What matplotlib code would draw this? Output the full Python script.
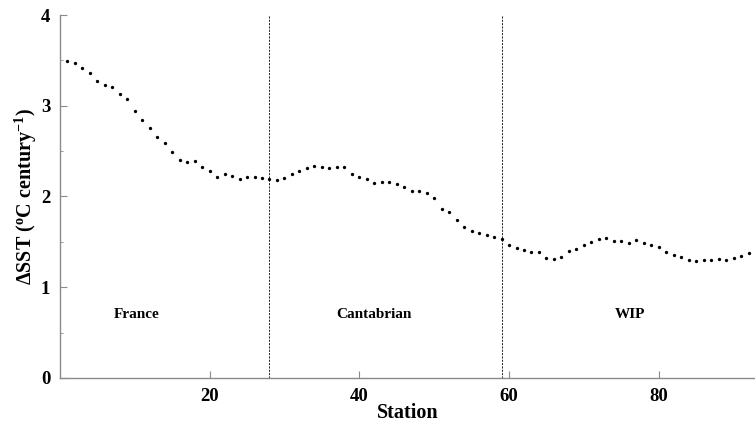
import numpy as np
import matplotlib.pyplot as plt
from matplotlib.ticker import MultipleLocator

# warming trend per station along the coast
station = np.arange(1, 93)
dsst = [3.49, 3.47, 3.42, 3.36, 3.27, 3.23, 3.21, 3.13, 3.07, 2.94,
        2.84, 2.76, 2.66, 2.59, 2.49, 2.40, 2.38, 2.39, 2.33, 2.28,
        2.22, 2.25, 2.23, 2.19, 2.22, 2.22, 2.20, 2.19, 2.18, 2.20,
        2.25, 2.28, 2.31, 2.34, 2.32, 2.31, 2.32, 2.33, 2.25, 2.22,
        2.19, 2.15, 2.16, 2.16, 2.14, 2.11, 2.06, 2.06, 2.04, 1.98,
        1.86, 1.83, 1.74, 1.66, 1.62, 1.60, 1.58, 1.55, 1.53, 1.47,
        1.43, 1.41, 1.39, 1.39, 1.32, 1.31, 1.33, 1.40, 1.42, 1.47,
        1.50, 1.53, 1.54, 1.51, 1.51, 1.49, 1.52, 1.49, 1.47, 1.44,
        1.39, 1.36, 1.33, 1.30, 1.29, 1.30, 1.30, 1.31, 1.30, 1.32,
        1.34, 1.38]

# region boundaries and names
bounds = [28, 59]
regions = ['France', 'Cantabrian', 'WIP']
region_x = [10.2, 42.0, 76.2]

plt.rcParams['font.family'] = ['Liberation Serif', 'DejaVu Serif']
plt.rcParams['font.weight'] = 'bold'
plt.rcParams['mathtext.fontset'] = 'custom'
plt.rcParams['mathtext.rm'] = 'Liberation Serif:bold'
plt.rcParams['mathtext.it'] = 'Liberation Serif:bold:italic'
plt.rcParams['mathtext.bf'] = 'Liberation Serif:bold'

fig = plt.figure(figsize=(7.55, 4.25), dpi=100)
ax = fig.add_axes([0.0793, 0.1106, 0.9221, 0.8541])

ax.plot(station, dsst, 'o', color='black', markersize=2.4, markeredgewidth=0)

for b in bounds:
    ax.axvline(b, color='black', linestyle=(0, (2.5, 1.5)), linewidth=0.6)

for name, xr in zip(regions, region_x):
    ax.text(xr, 0.70, name, ha='center', va='center', fontsize=11, fontweight='bold')

ax.set_xlim(0, 93)
ax.set_ylim(0, 4)
ax.xaxis.set_major_locator(MultipleLocator(20))
ax.yaxis.set_major_locator(MultipleLocator(1))
ax.yaxis.set_minor_locator(MultipleLocator(0.5))

for s in ['top', 'right']:
    ax.spines[s].set_visible(False)
for s in ['left', 'bottom']:
    ax.spines[s].set_color('#8a8a8a')
    ax.spines[s].set_linewidth(1.0)

ax.tick_params(axis='both', which='major', direction='in', length=5, width=0.8,
               color='#8a8a8a', labelsize=13.5, pad=7)
ax.tick_params(axis='y', which='minor', direction='in', length=2.5, width=0.6,
               color='#8a8a8a')
ax.set_xticks([20, 40, 60, 80])

ax.set_xlabel('Station', fontsize=14.5, fontweight='bold', labelpad=-1)
ax.set_ylabel(r'$\Delta$SST ($^{\rm o}$C century$^{-1}$)', fontsize=14.5,
              fontweight='bold', labelpad=1)

fig.savefig('out.png', dpi=100)
